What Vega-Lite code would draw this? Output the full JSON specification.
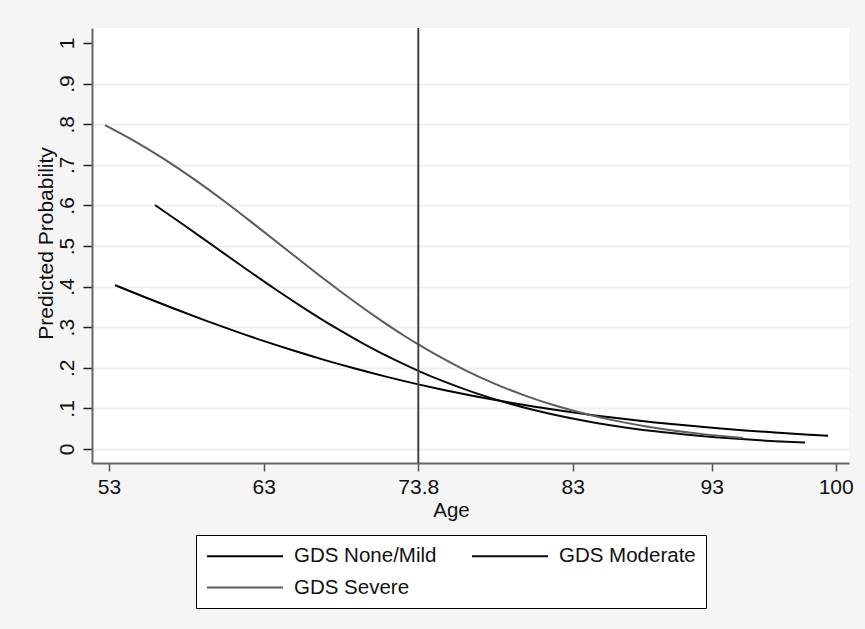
{
  "$schema": "https://vega.github.io/schema/vega-lite/v6.json",
  "width": 757,
  "height": 435,
  "autosize": {"type": "none"},
  "padding": {"left": 92, "top": 28, "right": 16, "bottom": 166},
  "background": "#f5f5f5",
  "config": {
    "view": {"fill": "white", "stroke": null},
    "font": "Liberation Sans",
    "axis": {"labelFont": "Liberation Sans", "titleFont": "Liberation Sans", "labelColor": "#111", "titleColor": "#111", "titleFontWeight": "normal"},
    "legend": {"labelFont": "Liberation Sans"}
  },
  "datasets": {
    "curves": [
      {"Age": 53.39, "P": 0.4037, "Group": "GDS None/Mild"},
      {"Age": 55.33, "P": 0.3738, "Group": "GDS None/Mild"},
      {"Age": 57.27, "P": 0.3448, "Group": "GDS None/Mild"},
      {"Age": 59.21, "P": 0.3169, "Group": "GDS None/Mild"},
      {"Age": 61.14, "P": 0.2903, "Group": "GDS None/Mild"},
      {"Age": 63.09, "P": 0.2650, "Group": "GDS None/Mild"},
      {"Age": 65.19, "P": 0.2412, "Group": "GDS None/Mild"},
      {"Age": 67.28, "P": 0.2189, "Group": "GDS None/Mild"},
      {"Age": 69.38, "P": 0.1981, "Group": "GDS None/Mild"},
      {"Age": 71.47, "P": 0.1789, "Group": "GDS None/Mild"},
      {"Age": 73.80, "P": 0.1592, "Group": "GDS None/Mild"},
      {"Age": 75.39, "P": 0.1448, "Group": "GDS None/Mild"},
      {"Age": 77.18, "P": 0.1299, "Group": "GDS None/Mild"},
      {"Age": 78.97, "P": 0.1163, "Group": "GDS None/Mild"},
      {"Age": 80.75, "P": 0.1040, "Group": "GDS None/Mild"},
      {"Age": 82.54, "P": 0.0928, "Group": "GDS None/Mild"},
      {"Age": 84.60, "P": 0.0827, "Group": "GDS None/Mild"},
      {"Age": 86.76, "P": 0.0736, "Group": "GDS None/Mild"},
      {"Age": 88.92, "P": 0.0655, "Group": "GDS None/Mild"},
      {"Age": 91.08, "P": 0.0582, "Group": "GDS None/Mild"},
      {"Age": 93.19, "P": 0.0517, "Group": "GDS None/Mild"},
      {"Age": 94.88, "P": 0.0458, "Group": "GDS None/Mild"},
      {"Age": 96.57, "P": 0.0406, "Group": "GDS None/Mild"},
      {"Age": 98.27, "P": 0.0360, "Group": "GDS None/Mild"},
      {"Age": 99.57, "P": 0.0328, "Group": "GDS None/Mild"},
      {"Age": 55.97, "P": 0.601, "Group": "GDS Moderate"},
      {"Age": 57.91, "P": 0.550, "Group": "GDS Moderate"},
      {"Age": 59.85, "P": 0.4975, "Group": "GDS Moderate"},
      {"Age": 61.79, "P": 0.4452, "Group": "GDS Moderate"},
      {"Age": 63.79, "P": 0.3941, "Group": "GDS Moderate"},
      {"Age": 65.89, "P": 0.3453, "Group": "GDS Moderate"},
      {"Age": 67.98, "P": 0.2994, "Group": "GDS Moderate"},
      {"Age": 70.08, "P": 0.2573, "Group": "GDS Moderate"},
      {"Age": 72.17, "P": 0.2193, "Group": "GDS Moderate"},
      {"Age": 73.80, "P": 0.1926, "Group": "GDS Moderate"},
      {"Age": 75.39, "P": 0.1652, "Group": "GDS Moderate"},
      {"Age": 77.18, "P": 0.1382, "Group": "GDS Moderate"},
      {"Age": 78.97, "P": 0.1151, "Group": "GDS Moderate"},
      {"Age": 80.75, "P": 0.0953, "Group": "GDS Moderate"},
      {"Age": 82.54, "P": 0.0787, "Group": "GDS Moderate"},
      {"Age": 84.60, "P": 0.0648, "Group": "GDS Moderate"},
      {"Age": 86.76, "P": 0.0532, "Group": "GDS Moderate"},
      {"Age": 88.92, "P": 0.0435, "Group": "GDS Moderate"},
      {"Age": 91.08, "P": 0.0356, "Group": "GDS Moderate"},
      {"Age": 93.19, "P": 0.0290, "Group": "GDS Moderate"},
      {"Age": 94.88, "P": 0.0237, "Group": "GDS Moderate"},
      {"Age": 96.57, "P": 0.0193, "Group": "GDS Moderate"},
      {"Age": 98.27, "P": 0.0157, "Group": "GDS Moderate"},
      {"Age": 52.74, "P": 0.798, "Group": "GDS Severe"},
      {"Age": 54.68, "P": 0.758, "Group": "GDS Severe"},
      {"Age": 56.62, "P": 0.7128, "Group": "GDS Severe"},
      {"Age": 58.56, "P": 0.6628, "Group": "GDS Severe"},
      {"Age": 60.50, "P": 0.609, "Group": "GDS Severe"},
      {"Age": 62.44, "P": 0.552, "Group": "GDS Severe"},
      {"Age": 64.49, "P": 0.494, "Group": "GDS Severe"},
      {"Age": 66.58, "P": 0.436, "Group": "GDS Severe"},
      {"Age": 68.68, "P": 0.380, "Group": "GDS Severe"},
      {"Age": 70.78, "P": 0.3267, "Group": "GDS Severe"},
      {"Age": 72.87, "P": 0.2777, "Group": "GDS Severe"},
      {"Age": 73.80, "P": 0.2575, "Group": "GDS Severe"},
      {"Age": 74.80, "P": 0.2335, "Group": "GDS Severe"},
      {"Age": 76.58, "P": 0.1944, "Group": "GDS Severe"},
      {"Age": 78.37, "P": 0.1604, "Group": "GDS Severe"},
      {"Age": 80.16, "P": 0.1315, "Group": "GDS Severe"},
      {"Age": 81.95, "P": 0.1070, "Group": "GDS Severe"},
      {"Age": 83.88, "P": 0.0867, "Group": "GDS Severe"},
      {"Age": 86.04, "P": 0.0699, "Group": "GDS Severe"},
      {"Age": 88.20, "P": 0.0562, "Group": "GDS Severe"},
      {"Age": 90.36, "P": 0.0450, "Group": "GDS Severe"},
      {"Age": 92.52, "P": 0.0360, "Group": "GDS Severe"},
      {"Age": 94.77, "P": 0.0271, "Group": "GDS Severe"}
    ],
    "marker": [{"Age": 73.8}]
  },
  "layer": [
    {
      "data": {"name": "curves"},
      "mark": {"type": "line", "strokeWidth": 2, "interpolate": "monotone"},
      "encoding": {
        "x": {
          "field": "Age", "type": "quantitative",
          "scale": {"domain": [51.901, 53, 63, 73.8, 83, 93, 100, 100.751], "range": [0, 17, 171.7, 326.3, 480.7, 619.7, 743.7, 757], "zero": false, "nice": false},
          "axis": {
            "title": "Age", "values": [53, 63, 73.8, 83, 93, 100], "labelExpr": "'' + datum.value",
            "grid": false, "domainColor": "#666", "domainWidth": 2, "tickColor": "#555", "tickWidth": 1.5, "tickSize": 8,
            "labelFontSize": 21, "labelPadding": 5, "titleFontSize": 20.5,
            "titleX": 359, "titleY": 53, "titleBaseline": "alphabetic", "titleAnchor": "middle", "titleAlign": "center", "labelFlush": false
          }
        },
        "y": {
          "field": "P", "type": "quantitative",
          "scale": {"domain": [-0.0345, 1.037], "zero": false, "nice": false},
          "axis": {
            "title": "Predicted Probability", "values": [0, 0.1, 0.2, 0.3, 0.4, 0.5, 0.6, 0.7, 0.8, 0.9, 1],
            "labelExpr": "datum.value == 0 ? '0' : datum.value >= 1 ? '1' : replace(format(datum.value, '.1f'), '0.', '.')",
            "grid": true, "gridColor": "#efefef", "gridWidth": 2,
            "gridOpacity": {"condition": {"test": "datum.value >= 1", "value": 0}, "value": 1},
            "domainColor": "#666", "domainWidth": 2, "tickColor": "#222", "tickWidth": 1.5, "tickSize": 9,
            "labelFontSize": 21, "labelAngle": 270, "labelAlign": "center", "labelBaseline": "alphabetic", "labelPadding": 10, "labelFlush": false,
            "titleFontSize": 21, "titleAngle": 270, "titleX": -40, "titleY": 215, "titleBaseline": "alphabetic", "titleAlign": "center"
          }
        },
        "color": {
          "field": "Group", "type": "nominal",
          "scale": {"domain": ["GDS None/Mild", "GDS Moderate", "GDS Severe"], "range": ["#000000", "#0a0a0a", "#5c5c5c"]},
          "legend": {
            "title": null, "orient": "none", "legendX": 104, "legendY": 507, "direction": "horizontal", "columns": 2,
            "symbolType": "M-3.8,0H3.8", "symbolSize": 400, "symbolStrokeWidth": 2, "symbolOffset": 28,
            "labelFontSize": 20.5, "labelColor": "#111", "labelOffset": 38, "columnPadding": 31, "rowPadding": 9.5,
            "padding": 10, "strokeColor": "#000", "fillColor": "white", "labelLimit": 300
          }
        },
        "detail": {"field": "Group"}
      }
    },
    {
      "data": {"name": "marker"},
      "mark": {"type": "rule", "color": "#444", "strokeWidth": 2},
      "encoding": {
        "x": {"field": "Age", "type": "quantitative"}
      }
    }
  ]
}
